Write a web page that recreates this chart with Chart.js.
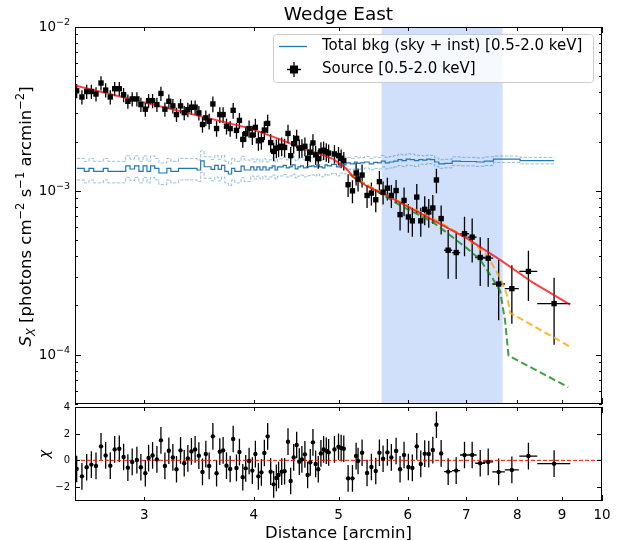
<!DOCTYPE html>
<html>
<head>
<meta charset="utf-8">
<script src="https://cdn.jsdelivr.net/npm/chart.js@4"></script>
<style>
  body { margin: 0; background: #fff; }
  #wrap { position: relative; width: 621px; height: 540px; }
  canvas { position: absolute; left: 0; }
  #profile { top: 0; }
  #resid { top: 400px; }
</style>
</head>
<body>
<div id="wrap">
  <canvas id="profile" width="621" height="408"></canvas>
  <canvas id="resid" width="621" height="140"></canvas>
</div>
<script>
// radial bins [arcmin]
const distance = [
  2.511, 2.546, 2.578, 2.61, 2.642, 2.677, 2.71, 2.743, 2.775, 2.809,
  2.841, 2.873, 2.906, 2.942, 2.973, 3.008, 3.034, 3.066, 3.101, 3.134,
  3.167, 3.2, 3.234, 3.265, 3.3, 3.332, 3.364, 3.396, 3.429, 3.463,
  3.496, 3.527, 3.558, 3.593, 3.628, 3.659, 3.691, 3.724, 3.76, 3.79,
  3.823, 3.853, 3.887, 3.917, 3.952, 3.986, 4.018, 4.05, 4.082, 4.114,
  4.15, 4.183, 4.216, 4.246, 4.271, 4.306, 4.339, 4.378, 4.409, 4.444,
  4.479, 4.51, 4.541, 4.577, 4.61, 4.642, 4.675, 4.708, 4.741, 4.774,
  4.808, 4.842, 4.872, 4.947, 5.0, 5.035, 5.07, 5.128, 5.187, 5.237,
  5.264, 5.32, 5.39, 5.452, 5.515, 5.568, 5.622, 5.686, 5.746, 5.818,
  5.879, 5.941, 6.009, 6.072, 6.143, 6.208, 6.273, 6.34, 6.408, 6.469,
  6.55, 6.672, 6.814, 6.965, 7.107, 7.259, 7.413, 7.62, 7.889, 8.24, 8.816
];
// source surface brightness [photons cm^-2 s^-1 arcmin^-2]
const sx = [
  4.08e-3, 3.74e-3, 4.04e-3, 4.04e-3, 3.90e-3, 4.55e-3, 4.12e-3, 3.74e-3, 4.20e-3, 4.20e-3,
  3.86e-3, 3.52e-3, 3.64e-3, 3.64e-3, 3.36e-3, 3.15e-3, 3.55e-3, 3.55e-3, 3.36e-3, 3.93e-3,
  3.15e-3, 3.52e-3, 3.30e-3, 2.92e-3, 3.30e-3, 3.00e-3, 3.13e-3, 3.24e-3, 3.24e-3, 2.99e-3,
  2.54e-3, 2.79e-3, 2.66e-3, 3.39e-3, 2.40e-3, 2.92e-3, 2.92e-3, 2.48e-3, 2.40e-3, 3.10e-3,
  2.34e-3, 2.69e-3, 2.06e-3, 2.23e-3, 2.40e-3, 2.19e-3, 2.44e-3, 2.02e-3, 2.05e-3, 2.35e-3,
  2.58e-3, 1.97e-3, 1.74e-3, 1.82e-3, 1.84e-3, 1.87e-3, 1.84e-3, 2.24e-3, 1.64e-3, 1.94e-3,
  2.09e-3, 1.82e-3, 1.83e-3, 1.87e-3, 1.58e-3, 1.72e-3, 1.96e-3, 1.66e-3, 1.57e-3, 1.75e-3,
  1.77e-3, 1.73e-3, 1.70e-3, 1.68e-3, 1.64e-3, 1.58e-3, 1.53e-3, 1.09e-3, 1.00e-3, 1.285e-3,
  1.18e-3, 1.249e-3, 9.37e-4, 9.69e-4, 8.82e-4, 1.138e-3, 9.82e-4, 1.038e-3, 9.37e-4, 1.004e-3,
  7.16e-4, 8.74e-4, 6.93e-4, 6.56e-4, 9.16e-4, 6.56e-4, 7.71e-4, 7.43e-4, 7.86e-4, 1.165e-3,
  6.77e-4, 4.34e-4, 4.20e-4, 5.47e-4, 5.22e-4, 3.92e-4, 3.88e-4, 2.70e-4, 2.53e-4, 3.22e-4, 2.05e-4
];
// fractional 1-sigma error on sx
const sxRelErr = [
  0.10, 0.10, 0.10, 0.10, 0.10, 0.10, 0.10, 0.10, 0.10, 0.10,
  0.10, 0.10, 0.10, 0.10, 0.10, 0.10, 0.10, 0.10, 0.10, 0.10,
  0.10, 0.10, 0.10, 0.10, 0.10, 0.10, 0.10, 0.10, 0.10, 0.10,
  0.11, 0.11, 0.11, 0.11, 0.11, 0.11, 0.11, 0.11, 0.11, 0.11,
  0.11, 0.11, 0.11, 0.11, 0.12, 0.13, 0.13, 0.13, 0.13, 0.13,
  0.13, 0.13, 0.13, 0.13, 0.13, 0.13, 0.13, 0.13, 0.13, 0.13,
  0.13, 0.13, 0.13, 0.13, 0.13, 0.13, 0.13, 0.13, 0.13, 0.13,
  0.13, 0.13, 0.13, 0.13, 0.13, 0.13, 0.13, 0.16, 0.16, 0.16,
  0.16, 0.16, 0.16, 0.16, 0.16, 0.16, 0.16, 0.16, 0.16, 0.16,
  0.20, 0.20, 0.20, 0.20, 0.20, 0.20, 0.20, 0.20, 0.20, 0.17,
  0.20, 0.33, 0.31, 0.27, 0.30, 0.33, 0.33, 0.40, 0.39, 0.34, 0.44
];
// half widths of the last (wide) bins [arcmin]
const wideBinHalfWidth = [0.07, 0.072, 0.083, 0.084, 0.095, 0.098, 0.126, 0.145, 0.195, 0.383];
// residuals (chi)
const chi = [
  -0.65, -1.2, -0.52, -0.32, -0.42, 1.05, 0.37, -0.4, 0.82, 0.87,
  0.25, -0.55, -0.12, 0.02, -0.52, -0.97, 0.17, 0.37, 0.07, 1.5,
  -0.42, 0.72, 0.22, -0.67, 0.75, -0.22, 0.15, 0.67, 0.82, 0.35,
  -0.87, 0.47, -0.42, 1.8, -0.97, 0.65, 0.75, -0.4, -0.65, 1.6,
  -0.57, 0.62, -1.27, -0.6, -0.05, -0.77, 0.47, -1.2, -0.9, 0.55,
  1.8, -0.85, -1.8, -1.32, -1.1, -0.85, -0.82, 1.4, -1.55, 0.22,
  1.15, -0.1, 0.07, 0.45, -1.1, -0.15, 1.35, -0.27, -0.67, 0.52,
  0.82, 0.72, 0.6, 0.82, 1.02, 0.92, 0.87, -1.35, -1.35, 0.32,
  -0.05, 0.57, -0.95, -0.5, -0.8, 0.57, 0.12, 0.6, 0.22, 0.7,
  -0.67, 0.4, -0.5, -0.57, 1.05, -0.27, 0.5, 0.47, 0.77, 2.67,
  0.52, -0.85, -0.77, 0.4, 0.4, -0.22, -0.12, -0.87, -0.72, 0.32, -0.25
];
// total background (sky + instrumental), same bins
const bkg = [
  1.372e-3, 1.372e-3, 1.316e-3, 1.372e-3, 1.316e-3, 1.316e-3, 1.372e-3, 1.316e-3, 1.316e-3, 1.316e-3,
  1.316e-3, 1.422e-3, 1.359e-3, 1.422e-3, 1.316e-3, 1.422e-3, 1.316e-3, 1.422e-3, 1.372e-3, 1.285e-3,
  1.285e-3, 1.372e-3, 1.316e-3, 1.316e-3, 1.372e-3, 1.372e-3, 1.372e-3, 1.372e-3, 1.372e-3, 1.34e-3,
  1.525e-3, 1.403e-3, 1.403e-3, 1.353e-3, 1.43e-3, 1.353e-3, 1.43e-3, 1.316e-3, 1.267e-3, 1.372e-3,
  1.316e-3, 1.316e-3, 1.416e-3, 1.34e-3, 1.34e-3, 1.40e-3, 1.34e-3, 1.40e-3, 1.34e-3, 1.40e-3,
  1.34e-3, 1.38e-3, 1.42e-3, 1.34e-3, 1.40e-3, 1.40e-3, 1.43e-3, 1.38e-3, 1.40e-3, 1.44e-3,
  1.36e-3, 1.40e-3, 1.42e-3, 1.38e-3, 1.40e-3, 1.41e-3, 1.42e-3, 1.40e-3, 1.44e-3, 1.40e-3,
  1.38e-3, 1.44e-3, 1.42e-3, 1.45e-3, 1.40e-3, 1.46e-3, 1.44e-3, 1.48e-3, 1.46e-3, 1.50e-3,
  1.47e-3, 1.48e-3, 1.50e-3, 1.46e-3, 1.49e-3, 1.48e-3, 1.52e-3, 1.48e-3, 1.50e-3, 1.52e-3,
  1.55e-3, 1.53e-3, 1.56e-3, 1.55e-3, 1.53e-3, 1.55e-3, 1.54e-3, 1.56e-3, 1.55e-3, 1.50e-3,
  1.46e-3, 1.47e-3, 1.52e-3, 1.51e-3, 1.51e-3, 1.50e-3, 1.52e-3, 1.56e-3, 1.56e-3, 1.53e-3, 1.53e-3
];
const bkgRelErr = [
  0.15, 0.15, 0.15, 0.15, 0.15, 0.15, 0.15, 0.15, 0.15, 0.15,
  0.15, 0.15, 0.15, 0.15, 0.15, 0.15, 0.15, 0.15, 0.15, 0.15,
  0.15, 0.15, 0.15, 0.15, 0.15, 0.15, 0.15, 0.15, 0.15, 0.15,
  0.15, 0.15, 0.15, 0.15, 0.15, 0.15, 0.15, 0.15, 0.15, 0.15,
  0.15, 0.15, 0.15, 0.15, 0.15, 0.12, 0.12, 0.12, 0.12, 0.12,
  0.12, 0.12, 0.12, 0.12, 0.12, 0.12, 0.12, 0.12, 0.12, 0.12,
  0.12, 0.12, 0.12, 0.12, 0.12, 0.12, 0.12, 0.12, 0.12, 0.12,
  0.12, 0.12, 0.12, 0.12, 0.12, 0.12, 0.12, 0.08, 0.08, 0.08,
  0.08, 0.08, 0.08, 0.08, 0.08, 0.08, 0.08, 0.08, 0.08, 0.08,
  0.08, 0.08, 0.08, 0.08, 0.08, 0.06, 0.06, 0.06, 0.06, 0.06,
  0.06, 0.06, 0.06, 0.06, 0.06, 0.06, 0.06, 0.045, 0.045, 0.045, 0.045
];
// best-fit model and two alternative models
const modelX = [2.5, 3.962, 4.288, 4.52, 4.764, 4.934, 5.02, 5.11, 5.2, 5.386, 5.628, 5.881, 6.42, 7.01, 7.65, 8.35, 9.195];
const modelY = [4.40e-3, 2.405e-3, 2.063e-3, 1.838e-3, 1.674e-3, 1.562e-3, 1.457e-3, 1.359e-3, 1.21e-3, 1.067e-3, 9.59e-4, 8.46e-4, 6.61e-4, 5.12e-4, 3.79e-4, 2.74e-4, 2.02e-4];
const altAX = [5.15, 5.386, 5.881, 6.42, 7.01, 7.386, 7.65, 7.785, 7.853, 7.96, 9.195];
const altAY = [1.27e-3, 1.087e-3, 8.54e-4, 6.77e-4, 5.17e-4, 4.06e-4, 2.94e-4, 2.33e-4, 1.80e-4, 1.73e-4, 1.118e-4];
const altBX = [5.15, 5.881, 6.42, 7.01, 7.26, 7.515, 7.65, 7.75, 7.82, 9.15];
const altBY = [1.26e-3, 8.15e-4, 6.40e-4, 4.46e-4, 3.79e-4, 2.87e-4, 2.44e-4, 1.61e-4, 9.86e-5, 6.34e-5];
// highlighted range [arcmin]
const bandRange = [5.6, 7.7];
// axis ticks
const xTicks = [3, 4, 5, 6, 7, 8, 9, 10];
const yMajor = [1e-2, 1e-3, 1e-4];
const yMinor = [9e-3, 8e-3, 7e-3, 6e-3, 5e-3, 4e-3, 3e-3, 2e-3, 9e-4, 8e-4, 7e-4, 6e-4, 5e-4, 4e-4, 3e-4, 2e-4, 9e-5, 8e-5, 7e-5, 6e-5, 5e-5];
const chiTicks = [-2, 0, 2, 4];

const FONT = '"DejaVu Sans", sans-serif';
const C0 = '#1f77b4';
const nWide = wideBinHalfWidth.length;

function pts(xs, ys) { return xs.map((x, i) => ({ x: x, y: ys[i] })); }

function font(size, italic) { return (italic ? 'italic ' : '') + size + 'px ' + FONT; }

function drawRich(ctx, parts, x, y, align) {
  let w = 0;
  parts.forEach(p => { ctx.font = font(p[1], p[3]); w += ctx.measureText(p[0]).width; });
  let cx = align === 'right' ? x - w : align === 'center' ? x - w / 2 : x;
  ctx.textAlign = 'left';
  parts.forEach(p => {
    ctx.font = font(p[1], p[3]);
    ctx.fillText(p[0], cx, y + p[2]);
    cx += ctx.measureText(p[0]).width;
  });
}

function drawFrame(ctx, a) {
  ctx.strokeStyle = '#000';
  ctx.lineWidth = 1;
  ctx.strokeRect(a.left + 0.5, a.top + 0.5, a.right - a.left - 1, a.bottom - a.top - 1);
}

function xTickMarks(ctx, a, xs) {
  ctx.beginPath();
  xTicks.forEach(v => {
    const px = Math.round(xs.getPixelForValue(v)) + 0.5;
    const len = v === 10 ? 6 : 4;
    ctx.moveTo(px, a.top); ctx.lineTo(px, a.top + len);
    ctx.moveTo(px, a.bottom); ctx.lineTo(px, a.bottom - len);
  });
  ctx.stroke();
}

function yTickMarks(ctx, a, ys, vals, len) {
  ctx.beginPath();
  vals.forEach(v => {
    const py = Math.round(ys.getPixelForValue(v)) + 0.5;
    ctx.moveTo(a.left, py); ctx.lineTo(a.left + len, py);
    ctx.moveTo(a.right, py); ctx.lineTo(a.right - len, py);
  });
  ctx.stroke();
}

const profilePlugin = {
  id: 'profileDecor',
  beforeDatasetsDraw(chart) {
    const { ctx, chartArea: a } = chart;
    const xs = chart.scales.x, ys = chart.scales.y;
    ctx.save();
    // highlighted band
    const b0 = xs.getPixelForValue(bandRange[0]), b1 = xs.getPixelForValue(bandRange[1]);
    ctx.fillStyle = 'rgba(100,149,237,0.3)';
    ctx.fillRect(b0, a.top, b1 - b0, a.bottom - a.top);
    // error bars
    ctx.strokeStyle = '#000';
    ctx.lineWidth = 1.3;
    ctx.beginPath();
    distance.forEach((d, i) => {
      const px = xs.getPixelForValue(d);
      ctx.moveTo(px, ys.getPixelForValue(sx[i] * (1 + sxRelErr[i])));
      ctx.lineTo(px, ys.getPixelForValue(sx[i] * (1 - sxRelErr[i])));
      const k = i - (distance.length - nWide);
      if (k >= 0) {
        const py = ys.getPixelForValue(sx[i]);
        ctx.moveTo(xs.getPixelForValue(d - wideBinHalfWidth[k]), py);
        ctx.lineTo(xs.getPixelForValue(d + wideBinHalfWidth[k]), py);
      }
    });
    ctx.stroke();
    ctx.restore();
  },
  afterDatasetsDraw(chart) {
    const { ctx, chartArea: a } = chart;
    const xs = chart.scales.x, ys = chart.scales.y;
    ctx.save();
    drawFrame(ctx, a);
    xTickMarks(ctx, a, xs);
    yTickMarks(ctx, a, ys, yMajor, 6);
    yTickMarks(ctx, a, ys, yMinor, 3);
    // y tick labels
    ctx.fillStyle = '#000';
    ctx.textBaseline = 'middle';
    yMajor.forEach(v => {
      const e = Math.round(Math.log10(v));
      drawRich(ctx, [['10', 13.5, 0], ['\u2212' + Math.abs(e), 9.5, -5]], 70, ys.getPixelForValue(v) + 0.5, 'right');
    });
    // title
    ctx.textBaseline = 'alphabetic';
    ctx.font = font(18.5);
    ctx.textAlign = 'center';
    ctx.fillText('Wedge East', (a.left + a.right) / 2, 20);
    // y axis label
    ctx.save();
    ctx.translate(31, (a.top + a.bottom) / 2 + 1);
    ctx.rotate(-Math.PI / 2);
    drawRich(ctx, [
      ['S', 16.5, 0, true], ['X', 11.5, 3.5, true], [' [photons cm', 16.5, 0], ['\u22122', 11.5, -7],
      [' s', 16.5, 0], ['\u22121', 11.5, -7], [' arcmin', 16.5, 0], ['\u22122', 11.5, -7], [']', 16.5, 0]
    ], 0, 0, 'center');
    ctx.restore();
    // legend
    const lx = 273.5, ly = 34.5, lw = 320, lh = 48;
    ctx.beginPath();
    ctx.roundRect(lx, ly, lw, lh, 3);
    ctx.fillStyle = 'rgba(255,255,255,0.8)';
    ctx.fill();
    ctx.strokeStyle = '#cccccc';
    ctx.lineWidth = 1;
    ctx.stroke();
    ctx.strokeStyle = C0;
    ctx.lineWidth = 1.3;
    ctx.beginPath(); ctx.moveTo(279, 46.5); ctx.lineTo(307, 46.5); ctx.stroke();
    ctx.strokeStyle = '#000';
    ctx.beginPath();
    ctx.moveTo(294, 62); ctx.lineTo(294, 77);
    ctx.moveTo(287, 69.5); ctx.lineTo(301, 69.5);
    ctx.stroke();
    ctx.fillStyle = '#000';
    ctx.fillRect(290, 65.5, 8, 8);
    ctx.font = font(15);
    ctx.textAlign = 'left';
    ctx.textBaseline = 'middle';
    ctx.fillText('Total bkg (sky + inst) [0.5-2.0 keV]', 322, 46.5);
    ctx.fillText('Source [0.5-2.0 keV]', 322, 69.5);
    ctx.restore();
  }
};

const residPlugin = {
  id: 'residDecor',
  beforeDatasetsDraw(chart) {
    const { ctx } = chart;
    const xs = chart.scales.x, ys = chart.scales.y;
    ctx.save();
    ctx.strokeStyle = '#000';
    ctx.lineWidth = 1.3;
    ctx.beginPath();
    distance.forEach((d, i) => {
      const px = xs.getPixelForValue(d);
      ctx.moveTo(px, ys.getPixelForValue(chi[i] + 1));
      ctx.lineTo(px, ys.getPixelForValue(chi[i] - 1));
      const k = i - (distance.length - nWide);
      if (k >= 0) {
        const py = ys.getPixelForValue(chi[i]);
        ctx.moveTo(xs.getPixelForValue(d - wideBinHalfWidth[k]), py);
        ctx.lineTo(xs.getPixelForValue(d + wideBinHalfWidth[k]), py);
      }
    });
    ctx.stroke();
    ctx.restore();
  },
  afterDatasetsDraw(chart) {
    const { ctx, chartArea: a } = chart;
    const xs = chart.scales.x, ys = chart.scales.y;
    ctx.save();
    drawFrame(ctx, a);
    xTickMarks(ctx, a, xs);
    yTickMarks(ctx, a, ys, chiTicks, 5);
    ctx.fillStyle = '#000';
    ctx.font = font(10);
    ctx.textAlign = 'right';
    ctx.textBaseline = 'middle';
    chiTicks.forEach(v => {
      ctx.fillText(v < 0 ? '\u2212' + Math.abs(v) : String(v), 70, ys.getPixelForValue(v) + 0.5);
    });
    ctx.font = font(13.5);
    ctx.textAlign = 'center';
    ctx.textBaseline = 'alphabetic';
    xTicks.forEach(v => ctx.fillText(String(v), xs.getPixelForValue(v), 118.5));
    ctx.font = font(16.5);
    ctx.fillText('Distance [arcmin]', (a.left + a.right) / 2, 137.5);
    ctx.save();
    ctx.translate(49, (a.top + a.bottom) / 2);
    ctx.rotate(-Math.PI / 2);
    ctx.font = font(14, true);
    ctx.fillText('\u03c7', 0, 0);
    ctx.restore();
    ctx.restore();
  }
};

const common = {
  responsive: false,
  animation: false,
  devicePixelRatio: 1,
  events: [],
  plugins: { legend: { display: false }, tooltip: { enabled: false } }
};

new Chart(document.getElementById('profile'), {
  type: 'scatter',
  data: {
    datasets: [
      { data: pts(distance, sx), pointStyle: 'rect', pointRadius: 3.8, backgroundColor: '#000', borderColor: '#000', borderWidth: 0 },
      { data: pts(modelX, modelY), showLine: true, pointRadius: 0, borderColor: 'rgba(255,0,0,0.75)', borderWidth: 2 },
      { data: pts(altAX, altAY), showLine: true, pointRadius: 0, borderColor: 'rgba(255,165,0,0.8)', borderWidth: 2, borderDash: [7, 3.5] },
      { data: pts(altBX, altBY), showLine: true, pointRadius: 0, borderColor: 'rgba(0,128,0,0.75)', borderWidth: 2, borderDash: [7, 3.5] },
      { data: pts(distance, bkg), showLine: true, stepped: 'middle', pointRadius: 0, borderColor: C0, borderWidth: 1.2 },
      { data: pts(distance, bkg.map((b, i) => b * (1 + bkgRelErr[i]))), showLine: true, stepped: 'middle', pointRadius: 0, borderColor: 'rgba(31,119,180,0.45)', borderWidth: 1, borderDash: [3.5, 1.5] },
      { data: pts(distance, bkg.map((b, i) => b * (1 - bkgRelErr[i]))), showLine: true, stepped: 'middle', pointRadius: 0, borderColor: 'rgba(31,119,180,0.45)', borderWidth: 1, borderDash: [3.5, 1.5] }
    ]
  },
  options: Object.assign({}, common, {
    layout: { padding: { left: 75, right: 19, top: 27, bottom: 1 } },
    scales: {
      x: { type: 'logarithmic', min: 2.5, max: 10, display: false },
      y: { type: 'logarithmic', min: 5e-5, max: 1e-2, display: false }
    }
  }),
  plugins: [profilePlugin]
});

new Chart(document.getElementById('resid'), {
  type: 'scatter',
  data: {
    datasets: [
      { data: pts(distance, chi), pointRadius: 2.2, backgroundColor: '#000', borderColor: '#000', borderWidth: 0 },
      { data: [{ x: 2.5, y: 0 }, { x: 10, y: 0 }], showLine: true, pointRadius: 0, borderColor: '#ff0000', borderWidth: 1, borderDash: [4, 2] }
    ]
  },
  options: Object.assign({}, common, {
    layout: { padding: { left: 75, right: 19, top: 7, bottom: 39 } },
    scales: {
      x: { type: 'logarithmic', min: 2.5, max: 10, display: false },
      y: { type: 'linear', min: -3.05, max: 4, display: false }
    }
  }),
  plugins: [residPlugin]
});
</script>
</body>
</html>
